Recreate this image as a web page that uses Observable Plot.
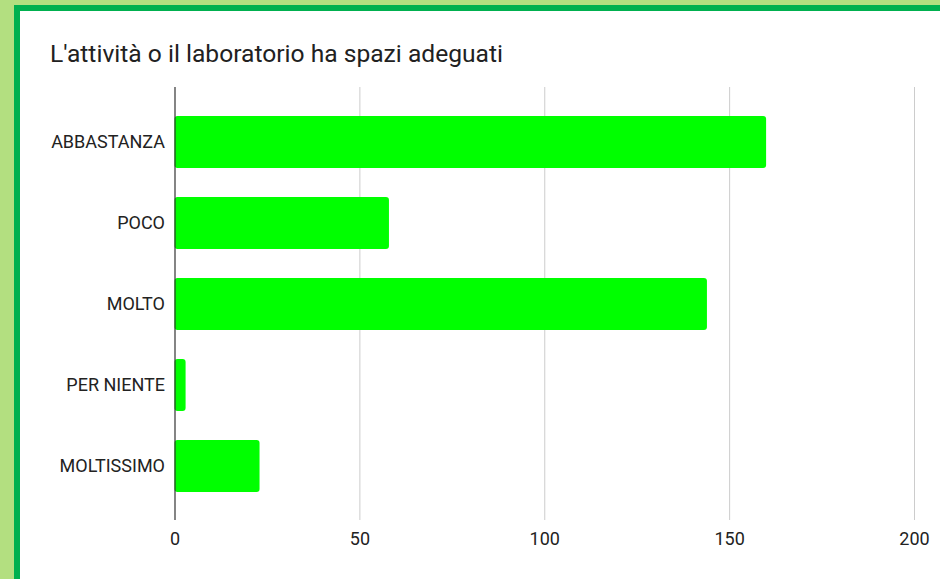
<!DOCTYPE html>
<html>
<head>
<meta charset="utf-8">
<script src="https://cdn.jsdelivr.net/npm/d3@7"></script>
<script src="https://cdn.jsdelivr.net/npm/@observablehq/plot@0.6"></script>
<style>
  html, body { margin: 0; padding: 0; }
  body { width: 940px; height: 579px; overflow: hidden; background: #b3df80; position: relative; font-family: Roboto, "Liberation Sans", sans-serif; }
  #panel { position: absolute; left: 14px; top: 5px; width: 960px; height: 620px; background: #ffffff; border-left: 6px solid #00b04f; border-top: 6px solid #00b04f; }
  #title { position: absolute; left: 50px; top: 40px; font-size: 24.6px; line-height: 1.17; color: #212121; white-space: nowrap; }
  #chart { position: absolute; left: 0; top: 0; }
</style>
</head>
<body>
<div id="panel"></div>
<div id="title">L'attività o il laboratorio ha spazi adeguati</div>
<div id="chart"></div>
<script>
const categories = ["ABBASTANZA", "POCO", "MOLTO", "PER NIENTE", "MOLTISSIMO"];
const values = [160, 58, 144, 3, 23];
const xTicks = [0, 50, 100, 150, 200];

const data = categories.map((c, i) => ({category: c, value: values[i]}));

const chart = Plot.plot({
  width: 940,
  height: 579,
  marginTop: 87,
  marginBottom: 59,
  marginLeft: 174.5,
  marginRight: 26,
  style: {background: "transparent", fontFamily: "Roboto, sans-serif", fontSize: "18px", color: "#222222"},
  x: {domain: [0, 200], ticks: xTicks, label: null},
  y: {domain: categories, paddingInner: 0.36, paddingOuter: 0.345, label: null},
  marks: [
    Plot.ruleX(xTicks.slice(1), {stroke: "#cccccc", strokeWidth: 1, strokeOpacity: 1}),
    Plot.barX(data, {x: "value", y: "category", fill: "#00ff00", rx: 3}),
    Plot.ruleX([0], {stroke: "#333333", strokeWidth: 1.2, strokeOpacity: 1}),
    Plot.axisY({tickSize: 0, tickPadding: 10, fontSize: 18, label: null}),
    Plot.axisX({ticks: xTicks, tickSize: 0, tickPadding: 12, fontSize: 18, label: null, tickFormat: d => String(d)})
  ]
});
document.getElementById("chart").appendChild(chart);
</script>
</body>
</html>
